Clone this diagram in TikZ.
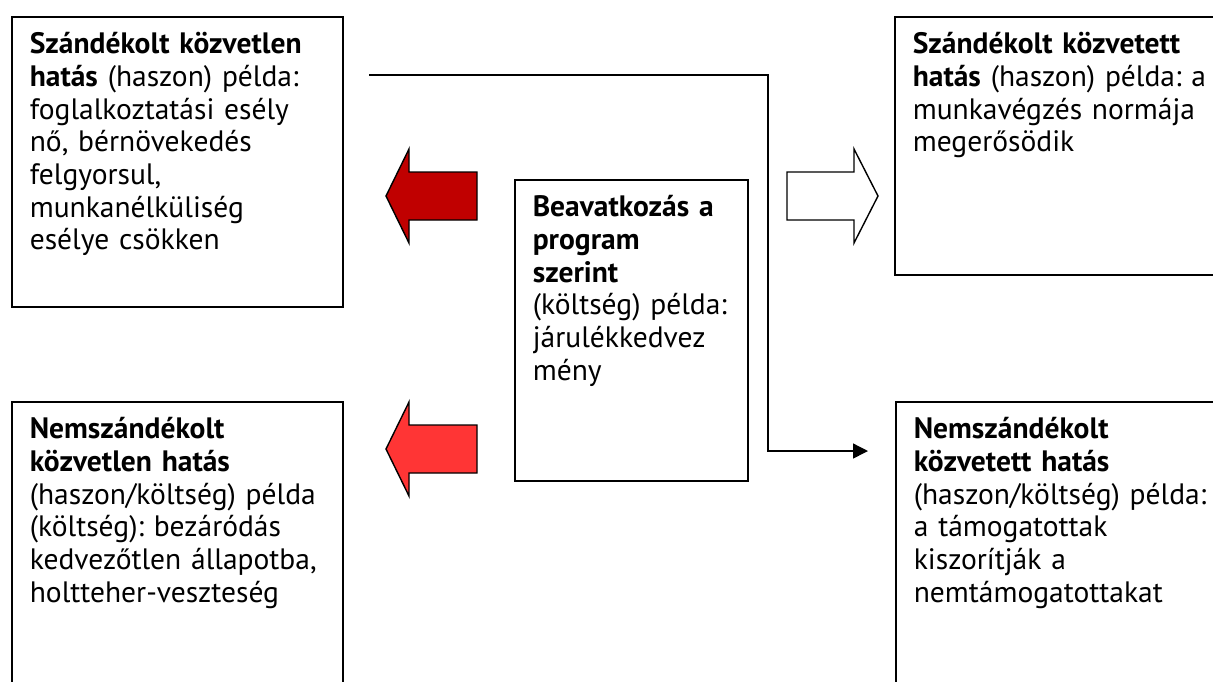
\documentclass[tikz,border=0pt]{standalone}
\usepackage{fontspec}
\setmainfont{PT Sans}
\usetikzlibrary{arrows.meta}
\definecolor{effectDark}{HTML}{C00000}
\definecolor{effectLight}{HTML}{FF3535}
\tikzset{
  effectBox/.style={
    draw=black,
    line width=0.9pt,
    anchor=north west,
    align=left,
    inner xsep=0.36cm,
    inner ysep=0.3cm,
    text height=0.44cm,
    font=\fontsize{16.8}{18.6}\selectfont\frenchspacing
  },
  blockArrow/.style={draw=black, line width=0.8pt, line join=miter},
  flowLine/.style={line width=0.8pt, -{Triangle[length=0.3cm,width=0.3cm]}}
}
\begin{document}
\begin{tikzpicture}[x=0.02cm,y=-0.02cm]
  \useasboundingbox (0,0) rectangle (1213,681);
  \clip (0,0) rectangle (1213,681);

  \node[effectBox, text width=5.9cm, text depth=4.76cm] (intendedDirect) at (11,16)
    {\textbf{Szándékolt közvetlen}\\
    \textbf{hatás} (haszon) példa:\\
    foglalkoztatási esély\\
    nő, bérnövekedés\\
    felgyorsul,\\
    munkanélküliség\\
    esélye csökken};
  \node[effectBox, text width=8cm, text depth=4.12cm] (intendedIndirect) at (894,16)
    {\textbf{Szándékolt közvetett}\\
    \textbf{hatás} (haszon) példa: a\\
    munkavégzés normája\\
    megerősödik};
  \node[effectBox, text width=3.94cm, text depth=4.98cm] (program) at (514,179)
    {\textbf{Beavatkozás a}\\
    \textbf{program}\\
    \textbf{szerint}\\
    (költség) példa:\\
    járulékkedvez\\
    mény};
  \node[effectBox, text width=5.9cm, text depth=7cm] (unintendedDirect) at (11,401)
    {\textbf{Nemszándékolt}\\
    \textbf{közvetlen hatás}\\
    (haszon/költség) példa\\
    (költség): bezáródás\\
    kedvezőtlen állapotba,\\
    holtteher-veszteség};
  \node[effectBox, text width=8cm, text depth=7cm] (unintendedIndirect) at (895,401)
    {\textbf{Nemszándékolt}\\
    \textbf{közvetett hatás}\\
    (haszon/költség) példa:\\
    a támogatottak\\
    kiszorítják a\\
    nemtámogatottakat};

  % block arrows
  \draw[blockArrow, fill=effectDark] (477,172) -- (409,172) -- (409,149) -- (386,196)
    -- (409,243) -- (409,220) -- (477,220) -- cycle;
  \draw[blockArrow, fill=effectLight] (477,425) -- (409,425) -- (409,402) -- (386,449)
    -- (409,496) -- (409,473) -- (477,473) -- cycle;
  \draw[blockArrow, fill=white] (787,172) -- (854,172) -- (854,149) -- (878,196)
    -- (854,243) -- (854,220) -- (787,220) -- cycle;

  \coordinate (lineStart) at (369,75);
  \coordinate (lineBend) at (768,451);
  \coordinate (lineEnd) at (868,451);
  \draw[flowLine] (lineStart) -| (lineBend) -- (lineEnd);
\end{tikzpicture}
\end{document}
